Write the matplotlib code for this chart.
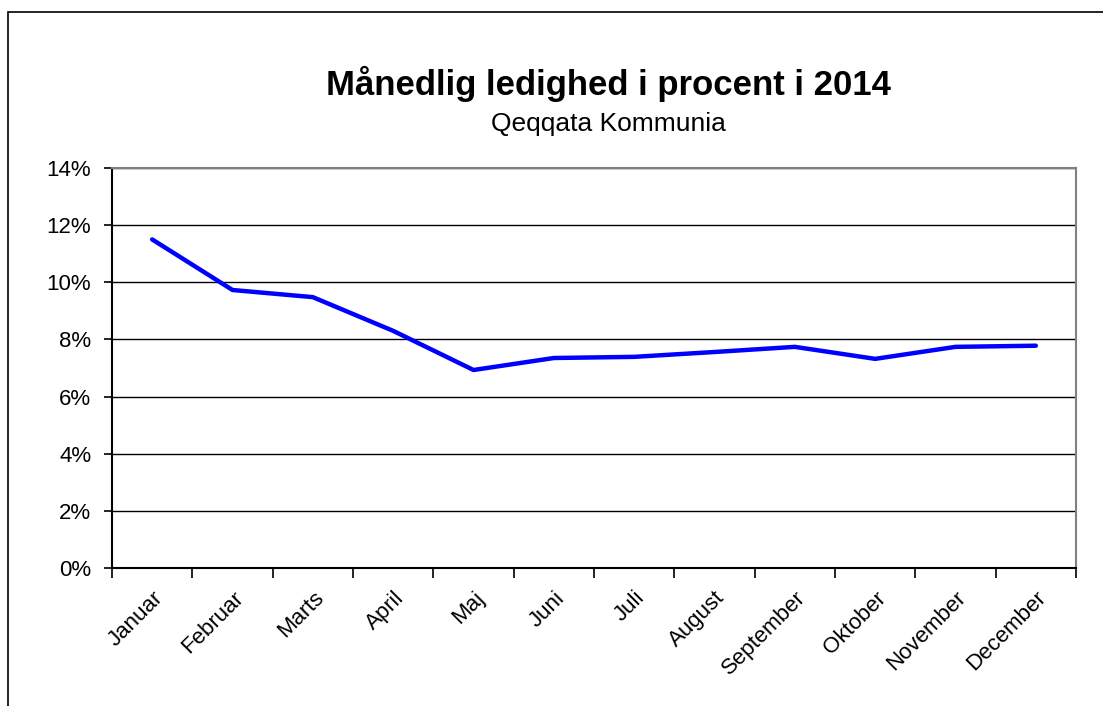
import matplotlib.pyplot as plt
from matplotlib.ticker import FuncFormatter, FixedLocator
from matplotlib.patches import Rectangle

plt.rcParams['font.family'] = ['Liberation Sans', 'DejaVu Sans']

months = ['Januar', 'Februar', 'Marts', 'April', 'Maj', 'Juni', 'Juli',
          'August', 'September', 'Oktober', 'November', 'December']
ledighed = [11.5, 9.73, 9.48, 8.3, 6.93, 7.35, 7.39, 7.56, 7.74, 7.32, 7.74, 7.78]
yticks = [0, 2, 4, 6, 8, 10, 12, 14]

fig = plt.figure(figsize=(11.03, 7.06), dpi=100)
# outer chart border
fig.patches.append(Rectangle((8 / 1103, -0.1), 1.2, (706 - 12) / 706 + 0.1,
                             transform=fig.transFigure, fill=False,
                             edgecolor='black', linewidth=1.2))

ax = fig.add_axes([112 / 1103, 138 / 706, 964 / 1103, 400 / 706])
x = list(range(len(months)))
ax.plot(x, ledighed, color='#0000ff', linewidth=3.2, solid_capstyle='round')

ax.set_xlim(-0.5, len(months) - 0.5)
ax.set_ylim(0, 14)
ax.set_yticks(yticks)
ax.yaxis.set_major_formatter(FuncFormatter(lambda v, p: f'{v:.0f}%'))
ax.grid(axis='y', color='black', linewidth=1)
ax.set_axisbelow(True)

# category boundaries as ticks, labels at centers
ax.xaxis.set_major_locator(FixedLocator([i - 0.5 for i in range(len(months) + 1)]))
ax.xaxis.set_major_formatter(FuncFormatter(lambda v, p: ''))
ax.xaxis.set_minor_locator(FixedLocator(x))
ax.set_xticklabels(months, minor=True, rotation=45, ha='right', va='top',
                   rotation_mode='anchor', fontsize=16)
ax.tick_params(axis='x', which='minor', length=0, pad=14)
ax.tick_params(axis='x', which='major', direction='out', length=7, width=1.2)
ax.tick_params(axis='y', direction='out', length=6, width=1.2, labelsize=16, pad=9)

for side in ['left', 'bottom']:
    ax.spines[side].set_linewidth(1.5)
    ax.spines[side].set_color('black')
for side in ['top', 'right']:
    ax.spines[side].set_linewidth(1.5)
    ax.spines[side].set_color('#808080')

fig.text(608 / 1103, 1 - 84 / 706, 'Månedlig ledighed i procent i 2014',
         ha='center', va='center', fontsize=25, fontweight='bold')
fig.text(608 / 1103, 1 - 124 / 706, 'Qeqqata Kommunia',
         ha='center', va='center', fontsize=19)

fig.savefig('out.png', dpi=100)
